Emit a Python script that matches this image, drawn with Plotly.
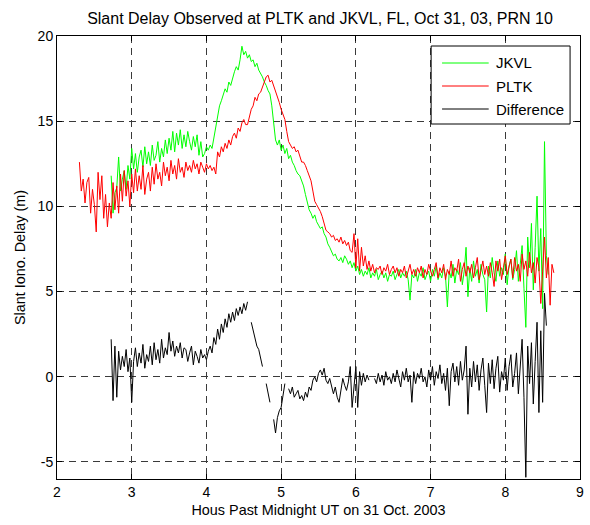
import numpy as np
import plotly.graph_objects as go

# Time grid: hours past midnight UT, sampled every 0.025 h
DT = 0.025
PLTK_T0 = 2.300
JKVL_T0 = 2.725
DIFF_T0 = 2.725

# Slant ionospheric delay at PLTK (m)
pltk_delay = [
    12.6, 10.9, 11.6, 10.2, 11.4, 11.7, 9.6, 11.0, 10.1, 8.5,
    12.0, 10.4, 11.8, 9.3, 10.7, 8.8, 10.2, 9.3, 11.4, 9.8,
    11.2, 9.6, 11.9, 10.3, 12.1, 10.6, 11.5, 10.0, 11.9, 10.8,
    12.2, 10.9, 11.8, 11.0, 12.4, 10.7, 11.6, 12.0, 10.9, 12.3,
    11.3, 12.5, 11.6, 12.0, 11.2, 12.6, 11.8, 12.3, 11.5, 12.7,
    11.9, 12.4, 11.6, 12.8, 12.0, 12.3, 11.7, 12.6, 12.1, 12.4,
    12.0, 12.7, 12.2, 12.5, 11.9, 12.6, 12.3, 12.0, 12.5, 12.2,
    12.4, 12.1, 12.3, 11.9, 13.2, 12.9, 13.5, 13.2, 13.7, 13.4,
    13.9, 13.6, 14.1, 14.3, 14.0, 14.6, 14.4, 14.9, 15.1, 14.8,
    14.8, 15.2, 15.7, 15.9, 16.4, 16.2, 16.6, 16.7, 17.0, 17.4,
    17.6, 17.7, 17.3, 17.4, 17.1, 16.8, 16.5, 16.1, 15.7, 15.4,
    15.1, 14.4, 13.8, 13.6, 13.4, 13.5, 13.2, 13.3, 12.9, 12.6,
    12.6, 12.4, 12.1, 11.8, 11.5, 10.9, 10.3, 10.1, 9.9, 9.7,
    9.4, 9.0, 8.6, 8.5, 8.4, 8.2, 8.3, 8.0, 8.1, 7.9,
    8.2, 7.8, 8.0, 7.7, 7.9, 7.4, 7.3, 8.4, 6.4, 8.1,
    6.2, 7.6, 6.5, 7.1, 6.3, 6.8, 6.2, 6.6, 6.1, 6.4,
    6.3, 6.5, 6.0, 6.4, 6.2, 6.6, 6.0, 6.3, 6.5, 6.1,
    6.4, 5.9, 6.3, 6.1, 6.5, 5.8, 6.2, 6.6, 6.0, 6.3,
    5.9, 6.4, 6.1, 6.5, 5.8, 6.3, 6.0, 6.6, 6.2, 5.9,
    6.3, 6.7, 5.8, 6.4, 6.1, 6.6, 5.7, 6.3, 6.0, 6.8,
    5.9, 6.4, 6.2, 6.9, 5.6, 6.3, 6.7, 5.9, 6.5, 6.1,
    6.6, 5.8, 6.4, 7.0, 5.7, 6.2, 6.8, 6.0, 6.5, 5.9,
    6.7, 6.1, 5.3, 6.8, 6.2, 6.9, 5.7, 6.4, 7.1, 6.0,
    6.5, 6.9, 5.8, 7.0, 6.2, 6.6, 5.6, 7.2, 6.3, 6.8,
    5.9, 7.3, 6.1, 6.7, 5.5, 7.0, 6.4, 4.3, 6.2, 8.2,
    5.8, 7.0, 4.2, 6.6, 6.1,
]

# Slant ionospheric delay at JKVL (m)
jkvl_delay = [
    11.8, 9.6, 10.8, 11.1, 12.9, 10.9, 11.6, 12.1, 11.0, 12.4,
    11.6, 13.4, 12.2, 13.1, 12.0, 12.9, 13.3, 12.3, 13.5, 12.5,
    13.2, 12.4, 13.6, 12.7, 13.0, 13.8, 12.6, 13.4, 12.9, 13.9,
    13.1, 14.0, 13.3, 14.4, 13.2, 14.3, 13.6, 14.5, 13.4, 14.2,
    13.5, 14.4, 13.8, 13.3, 14.1, 13.5, 14.2, 13.0, 13.8, 12.9,
    13.1, 13.5, 13.3, 13.6, 13.4, 14.0, 14.6, 15.4, 15.9, 16.2,
    16.5, 16.9, 16.7, 17.3, 17.1, 17.6, 17.9, 18.2, 18.0, 18.6,
    19.4, 18.9, 19.1, 18.7, 18.9, 18.5, 18.6, 18.2, 18.4, 18.0,
    17.8, 17.6, 17.3, 17.1, 16.8, 16.6, 15.9, 15.0, 13.9, 13.6,
    13.9, 13.3, 13.6, 13.1, 13.4, 12.8, 13.0, 12.6, 12.4, 12.1,
    11.9, 11.8, 11.5, 11.2, 10.7, 10.2, 9.8, 9.6, 9.3, 9.5,
    9.1, 8.9, 8.7, 8.8, 8.4, 8.2, 7.8, 7.6, 7.3, 7.1,
    7.2, 6.9, 6.8, 7.0, 6.7, 7.1, 6.9, 6.6, 6.8, 6.4,
    6.7, 6.2, 6.5, 6.0, 6.3, 5.9, 6.2, 6.0, 6.4, 5.8,
    6.1, 5.9, 6.3, 5.7, 6.0, 6.2, 5.8, 6.1, 5.6, 6.0,
    5.9, 6.2, 5.7, 6.0, 6.3, 5.8, 6.1, 5.9, 6.2, 5.7,
    4.5, 6.0, 5.8, 6.3, 5.6, 6.1, 5.9, 6.4, 5.7, 6.0,
    6.2, 5.6, 6.3, 5.9, 6.5, 5.7, 6.1, 5.8, 6.4, 5.9,
    4.1, 6.2, 5.8, 6.6, 5.5, 6.3, 6.0, 6.7, 5.4, 6.2,
    7.6, 4.7, 6.4, 5.6, 6.8, 5.9, 6.3, 5.5, 6.6, 6.0,
    5.7, 3.8, 6.5, 5.8, 7.0, 6.1, 5.6, 6.8, 5.9, 6.4,
    6.0, 7.2, 5.4, 6.5, 6.9, 5.7, 6.3, 7.4, 5.6, 6.6,
    7.7, 5.2, 2.9, 8.2, 6.4, 9.0, 5.1, 7.6, 10.6, 6.2,
    8.7, 4.0, 13.8, 7.1, 6.0,
]

# JKVL minus PLTK (m); None marks epochs without a common fix
diff_delay = [
    2.2, -1.4, 1.8, -1.2, 1.5, 0.4, 1.2, 0.6, 1.6, 0.3,
    1.1, -1.5, 0.9, 1.7, 0.6, 1.4, 0.8, 1.9, 0.5, 1.3,
    0.9, 1.8, 0.7, 2.0, 1.0, 1.6, 0.8, 2.2, 1.1, 1.7,
    1.3, 2.6, 1.5, 2.1, 1.2, 1.8, 1.4, 2.0, 1.1, 1.7,
    1.6, 0.9, 1.4, 1.8, 0.7, 1.5, 1.2, 0.8, 1.6, 1.1,
    1.3, 1.0, 1.5, 1.8, 1.4, 2.3, 1.9, 2.8, 2.2, 3.1,
    2.6, 3.4, 2.9, 3.7, 3.2, 3.8, 3.3, 4.0, 3.6, 4.1,
    3.7, 4.3, 3.9, 4.4, None, 3.2, 2.7, 2.2, 1.8, 1.6,
    1.0, 0.6, None, -0.4, -0.9, -1.5, None, -2.5, -3.3, -2.4,
    -2.0, -1.8, -1.2, -0.4, None, -0.7, -1.0, -0.6, -1.2, -1.0,
    -0.8, -1.3, -1.1, -1.4, -0.9, -1.2, -0.6, -0.8, -0.2, 0.0,
    -0.3, 0.2, 0.4, 0.1, 0.5, -0.2, -0.4, -0.1, -0.6, -1.0,
    -0.6, -1.2, -1.5, -0.9, -0.1, -0.5, -0.8, -0.3, 0.6, -1.8,
    -0.8, 0.6, -1.8, 0.3, -0.5, 0.2, -0.3, 0.1, -0.2, None,
    None, -0.1, -0.4, 0.2, -0.3, 0.1, -0.5, 0.3, -0.2, 0.0,
    -0.4, 0.2, -0.3, 0.4, -0.1, -0.6, 0.3, -0.2, 0.5, -0.3,
    0.1, -1.5, 0.3, -0.4, 0.2, -0.1, 0.5, -0.3, 0.0, -0.6,
    0.4, -0.2, 0.6, -0.5, 0.3, -0.1, 0.7, -0.4, 0.2, -0.8,
    0.5, -1.7, 0.3, 0.8, -0.3, 0.6, -0.5, 0.9, -0.2, 0.4,
    1.8, -2.2, 0.5, -0.6, 0.9, -0.3, 0.7, -0.8, 0.4, 1.1,
    -0.5, -2.1, 0.8, -0.4, 1.0, -0.7, 0.5, 1.2, -0.9, 0.3,
    -0.2, 1.1, -0.8, 0.6, 1.3, -0.6, 0.2, 1.4, -1.0, 0.5,
    2.2, -1.2, -5.9, 1.8, -0.4, 2.0, -1.6, 0.9, 3.2, -2.1,
    2.7, -1.5, 4.9, 3.0, None,
]

series_names = ["JKVL", "PLTK", "Difference"]
series_colors = ["#00ff00", "#ff0000", "#000000"]

x_ticks = [2, 3, 4, 5, 6, 7, 8, 9]
y_ticks = [-5, 0, 5, 10, 15, 20]
y_tick_text = ["-5", "0", "5", "10", "15", "20"]

W, H = 590, 525
M_L, M_R, M_T, M_B = 57, 6, 36, 46
PLOT_W = W - M_L - M_R
PLOT_H = H - M_T - M_B


def hours(t0, values):
    return t0 + DT * np.arange(len(values))


def px_to_paper(px, py):
    return (px - M_L) / PLOT_W, 1 - (py - M_T) / PLOT_H


FONT = "Liberation Sans, Arial, Helvetica, sans-serif"

fig = go.Figure()
for name, color, t0, vals in zip(series_names, series_colors,
                                 [JKVL_T0, PLTK_T0, DIFF_T0],
                                 [jkvl_delay, pltk_delay, diff_delay]):
    fig.add_trace(go.Scatter(x=hours(t0, vals), y=vals, name=name,
                             mode="lines", connectgaps=False,
                             line=dict(color=color, width=1)))

axis_common = dict(
    showgrid=True, gridcolor="#3a3a3a", gridwidth=1, griddash="7px,5px",
    showline=True, linecolor="black", linewidth=1, mirror="ticks",
    ticks="inside", ticklen=5, tickcolor="black",
    tickfont=dict(size=14, color="black", family=FONT),
    zeroline=False,
)

# MATLAB-style legend box drawn in the upper right corner
shapes = []
annotations = []
bx0, by0 = px_to_paper(434, 46)
bx1, by1 = px_to_paper(574, 124)
shapes.append(dict(type="rect", xref="paper", yref="paper",
                   x0=bx0, y0=by1, x1=bx1, y1=by0,
                   line=dict(color="black", width=1), fillcolor="white", layer="above"))
for i, (name, color) in enumerate(zip(series_names, series_colors)):
    row_y = 63 + i * 23
    lx0, ly = px_to_paper(445, row_y)
    lx1, _ = px_to_paper(492, row_y)
    shapes.append(dict(type="line", xref="paper", yref="paper",
                       x0=lx0, y0=ly, x1=lx1, y1=ly,
                       line=dict(color=color, width=1), layer="above"))
    tx, _ = px_to_paper(497, row_y)
    annotations.append(dict(text=name, xref="paper", yref="paper", x=tx, y=ly,
                            xanchor="left", yanchor="middle", showarrow=False,
                            font=dict(size=15, color="black", family=FONT)))

fig.update_layout(
    width=W, height=H,
    margin=dict(l=M_L, r=M_R, t=M_T, b=M_B),
    paper_bgcolor="white", plot_bgcolor="white",
    font=dict(family=FONT, color="black", size=14),
    title=dict(text="Slant Delay Observed at PLTK and JKVL, FL, Oct 31, 03, PRN 10",
               x=320 / W, xanchor="center", y=1 - 18 / H, yanchor="middle",
               yref="container", font=dict(size=16)),
    xaxis=dict(range=[2, 9], tickvals=x_ticks,
               title=dict(text="Hous Past Midnight UT on 31 Oct. 2003",
                          font=dict(size=14.4), standoff=6),
               **axis_common),
    yaxis=dict(range=[-6, 20], tickvals=y_ticks, ticktext=y_tick_text,
               title=dict(text="Slant Iono. Delay (m)", font=dict(size=14.4), standoff=8),
               **axis_common),
    shapes=shapes,
    annotations=annotations,
    showlegend=False,
)

fig.write_html("out.html")
